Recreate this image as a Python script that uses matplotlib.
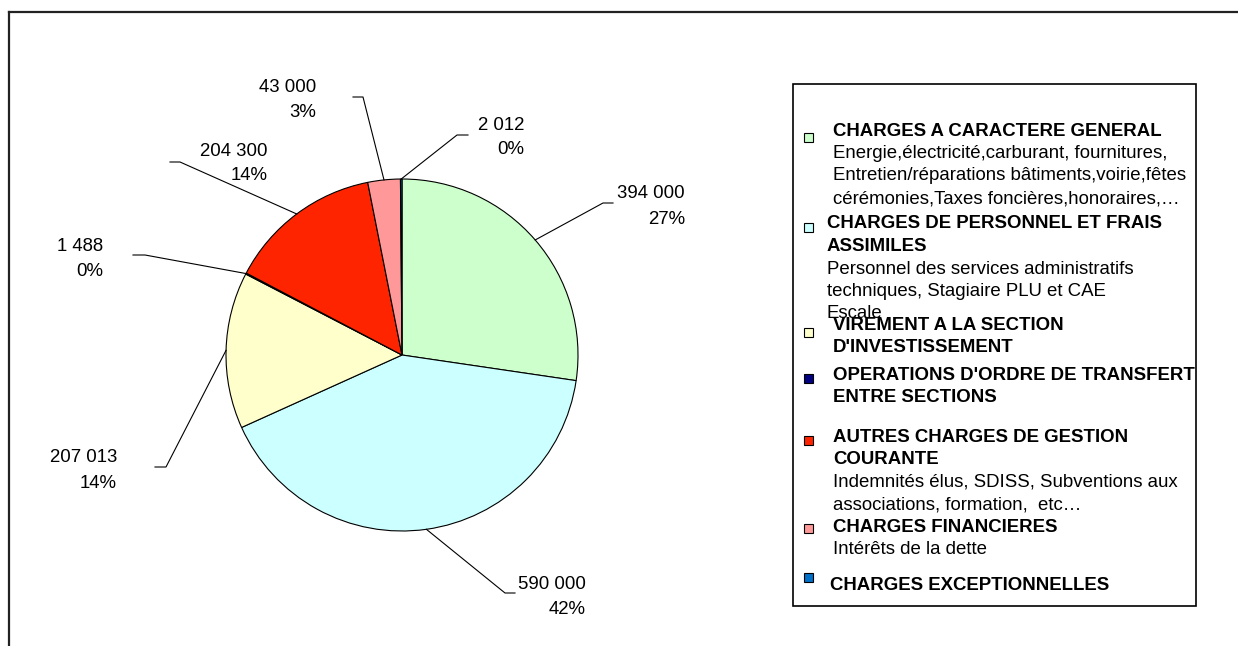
import numpy as np
import matplotlib
matplotlib.use("Agg")
import matplotlib.pyplot as plt
from matplotlib.patches import Rectangle

plt.rcParams['font.family'] = ['Liberation Sans', 'DejaVu Sans']

# data
amounts = [394000, 590000, 207013, 1488, 204300, 43000, 2012]
pct_labels = [27, 42, 14, 0, 14, 3, 0]
colors = ['#ccffcc', '#ccffff', '#ffffcc', '#000080', '#ff2400', '#ff9999', '#0070c8']
titles = [
    "CHARGES A CARACTERE GENERAL",
    "CHARGES DE PERSONNEL ET FRAIS\nASSIMILES",
    "VIREMENT A LA SECTION\nD'INVESTISSEMENT",
    "OPERATIONS D'ORDRE DE TRANSFERT\nENTRE SECTIONS",
    "AUTRES CHARGES DE GESTION\nCOURANTE",
    "CHARGES FINANCIERES",
    "CHARGES EXCEPTIONNELLES",
]
descriptions = [
    "Energie,électricité,carburant, fournitures,\nEntretien/réparations bâtiments,voirie,fêtes\ncérémonies,Taxes foncières,honoraires,…",
    "Personnel des services administratifs\ntechniques, Stagiaire PLU et CAE\nEscale",
    "",
    "",
    "Indemnités élus, SDISS, Subventions aux\nassociations, formation,  etc…",
    "Intérêts de la dette",
    "",
]

# layout (pixels)
W, H = 1238, 646
cx, cy, R = 402, 355, 176
label_right = [685, 586, 117, 103, 268, 316, 524]
label_mid = [204.5, 595, 468.5, 257, 161.5, 98, 135.5]
elbows = [(603, 203), (505, 593), (166, 467), (145, 255), (180, 162), (363, 97), (457, 135)]
line_ends = [(613, 203), (515, 593), (155, 467), (133, 255), (170, 162), (353, 97), (468, 135)]
leg_title_y = [129, 222, 323, 373, 435, 525, 583]
leg_text_x = [833, 827, 833, 833, 833, 833, 830]
leg_marker_y = [137, 227, 332, 378, 440, 528, 577]
FS = 13.4
LINE = 22.5

fig = plt.figure(figsize=(W / 100, H / 100), dpi=100)
fig.patch.set_facecolor('white')

ax_pie = fig.add_axes([(cx - R) / W, (H - cy - R) / H, 2 * R / W, 2 * R / H])
wedges, _ = ax_pie.pie(amounts, colors=colors, startangle=90, counterclock=False,
                       radius=1, wedgeprops=dict(edgecolor='black', linewidth=0.8))
ax_pie.set_xlim(-1, 1)
ax_pie.set_ylim(-1, 1)
ax_pie.axis('off')

ov = fig.add_axes([0, 0, 1, 1])
ov.set_xlim(0, W)
ov.set_ylim(H, 0)
ov.axis('off')

# outer frame (only top and left visible)
ov.plot([9, W], [12, 12], color='#222222', lw=1.6, clip_on=False)
ov.plot([9, 9], [12, H], color='#222222', lw=1.6, clip_on=False)

# data labels with leader lines
for i, w in enumerate(wedges):
    mid = np.deg2rad((w.theta1 + w.theta2) / 2)
    px, py = cx + R * np.cos(mid), cy - R * np.sin(mid)
    ex, ey = elbows[i]
    lx, ly = line_ends[i]
    ov.plot([px, ex, lx], [py, ey, ly], color='black', lw=0.8)
    value_txt = f"{amounts[i]:,}".replace(',', ' ')
    ov.text(label_right[i], label_mid[i] - 12.5 + 6.5, value_txt, ha='right', va='baseline', fontsize=FS)
    ov.text(label_right[i], label_mid[i] + 12.5 + 6.5, f"{pct_labels[i]}%", ha='right', va='baseline', fontsize=FS)

# legend box
ov.add_patch(Rectangle((793, 84), 1196 - 793, 606 - 84, fill=False, edgecolor='black', lw=1.2))
for i in range(len(titles)):
    ov.add_patch(Rectangle((803.5, leg_marker_y[i] - 4.5), 9, 9, facecolor=colors[i],
                           edgecolor='black', lw=0.8))
    y = leg_title_y[i]
    for t in titles[i].split('\n'):
        ov.text(leg_text_x[i], y + 6.5, t, fontsize=FS, fontweight='bold', va='baseline')
        y += LINE
    if descriptions[i]:
        for t in descriptions[i].split('\n'):
            ov.text(leg_text_x[i], y + 6.5, t, fontsize=FS, va='baseline')
            y += LINE

fig.savefig('out.png', dpi=100, facecolor='white')
